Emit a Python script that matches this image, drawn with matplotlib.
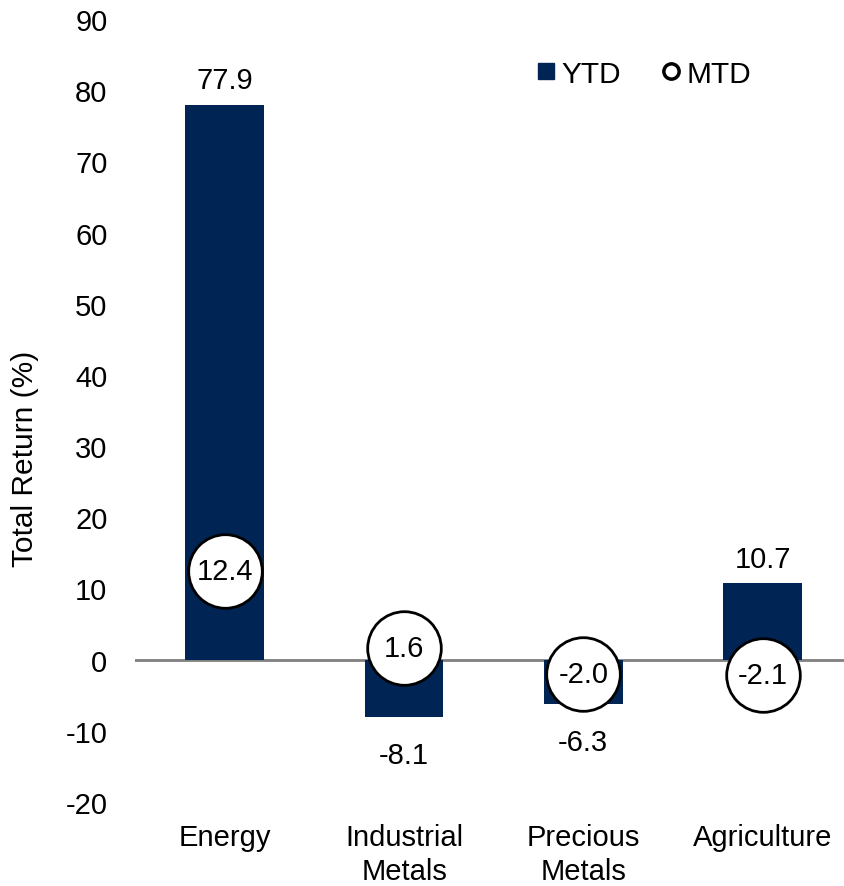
import matplotlib.pyplot as plt
from matplotlib.lines import Line2D

categories = ["Energy", "Industrial\nMetals", "Precious\nMetals", "Agriculture"]
ytd = [77.9, -8.1, -6.3, 10.7]
mtd = [12.4, 1.6, -2.0, -2.1]
yticks = [-20, -10, 0, 10, 20, 30, 40, 50, 60, 70, 80, 90]

navy = "#002454"
plt.rcParams["font.family"] = ["Liberation Sans", "DejaVu Sans"]
plt.rcParams["axes.unicode_minus"] = False

fig = plt.figure(figsize=(8.45, 8.87), dpi=100)
ax = fig.add_axes([0.16, 0.0947, 0.84, 0.8828])

x = list(range(len(categories)))
ax.bar(x, ytd, width=0.44, color=navy, zorder=2)
ax.axhline(0, color="#808080", linewidth=2, zorder=1)

for xi, v in zip(x, ytd):
    off = 3.5 if v >= 0 else -5.3
    ax.text(xi, v + off, f"{v:.1f}", ha="center", va="center", fontsize=21)

ax.plot(x, mtd, linestyle="none", marker="o", markersize=53,
        markerfacecolor="white", markeredgecolor="black", markeredgewidth=2.0, zorder=3)
for xi, v in zip(x, mtd):
    ax.text(xi, v, f"{v:.1f}", ha="center", va="center", fontsize=21, zorder=4)

ax.set_ylim(-20, 90)
ax.set_xlim(-0.5, 3.46)
ax.set_yticks(yticks)
ax.set_xticks(x)
ax.set_xticklabels(categories, fontsize=21, linespacing=1.3)
ax.tick_params(axis="y", labelsize=21, length=0, pad=20)
ax.tick_params(axis="x", length=0, pad=15)
ax.set_ylabel("Total Return (%)", fontsize=21.5)
ax.yaxis.set_label_coords(-0.135, 0.44)
for s in ax.spines.values():
    s.set_visible(False)

handles = [
    Line2D([], [], linestyle="none", marker="s", markersize=12, color=navy),
    Line2D([], [], linestyle="none", marker="o", markersize=11,
           markerfacecolor="white", markeredgecolor="black", markeredgewidth=2.5),
]
ax.legend(handles, ["YTD", "MTD"], loc="upper left", bbox_to_anchor=(0.52, 0.982),
          ncol=2, frameon=False, fontsize=21.5, handletextpad=0.0,
          columnspacing=1.2, handlelength=1.0)

fig.savefig("out.png", dpi=100)
